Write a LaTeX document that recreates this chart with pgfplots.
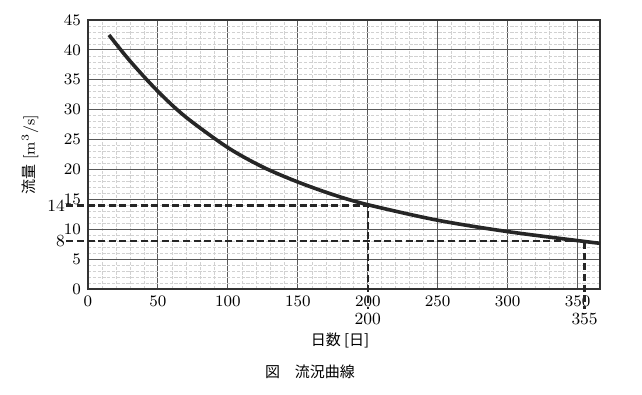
\documentclass[border=0pt]{standalone}
\usepackage{pgfplots}
\pgfplotsset{compat=1.18}
\usepackage{fontspec}
\newfontfamily\cjk{Noto Sans CJK JP}
\begin{document}
\begin{tikzpicture}
\pgfplotsset{every tick label/.append style={font=\fontsize{8.5}{10}\selectfont}}
\begin{axis}[
  at={(0,0)}, anchor=south west,
  scale only axis, width=256pt, height=134.5pt,
  xmin=0, xmax=366, ymin=0, ymax=45,
  xtick={0,50,...,350}, ytick={0,5,...,45},
  minor x tick num=4, minor y tick num=4,
  grid=both,
  major grid style={draw=black!65, line width=0.5pt},
  minor grid style={draw=black!18, dash pattern=on 1.6pt off 0.8pt, line width=0.3pt},
  axis line style={draw=black!80, line width=0.9pt},
  tick style={draw=none},
  clip=false,
]
\addplot[draw=black!85, line width=1.8pt, smooth] coordinates {
(15,42.5) (30,38.15) (50,33.05) (70,28.75) (100,23.65) (125,20.4)
(150,17.9) (175,15.8) (200,14.1) (250,11.5) (300,9.6) (355,7.95) (366,7.65)};
\addplot[draw=black!85, line width=1.2pt, dash pattern=on 3.5pt off 1.8pt] coordinates {(-15.5,14) (200,14) (200,-3.3)};
\addplot[draw=black!85, line width=1.2pt, dash pattern=on 3.5pt off 1.8pt] coordinates {(-15.5,8) (355,8) (355,-3.3)};
\node[anchor=east, inner sep=0.5pt, font=\fontsize{8.5}{10}\selectfont] at (axis cs:-15.5,14) {14};
\node[anchor=east, inner sep=0.5pt, font=\fontsize{8.5}{10}\selectfont] at (axis cs:-15.5,8) {8};
\node[anchor=north, inner sep=1pt, font=\fontsize{8.5}{10}\selectfont] at (axis cs:200,-3.6) {200};
\node[anchor=north, inner sep=1pt, font=\fontsize{8.5}{10}\selectfont] at (axis cs:355,-3.6) {355};
\end{axis}
\node[rotate=90, font=\fontsize{7.5}{9}\selectfont] at (-29pt,67pt) {{\cjk 流量} [m\textsuperscript{3}/s]};
\node[font=\fontsize{7.5}{9}\selectfont] at (126pt,-25.5pt) {{\cjk 日数 [日]}};
\node[font=\fontsize{7.5}{9}\selectfont] at (111pt,-41.5pt) {{\cjk 図\quad 流況曲線}};
\path[use as bounding box] (-44pt,-53pt) rectangle (277pt,144.5pt);
\end{tikzpicture}
\end{document}
